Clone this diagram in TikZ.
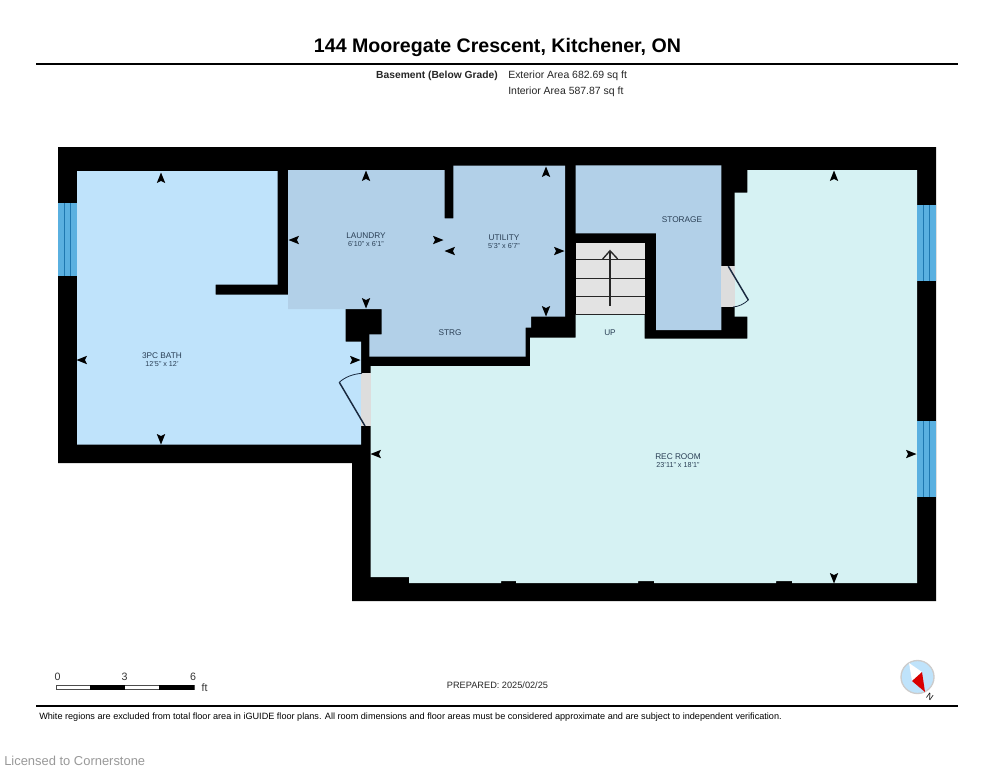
\documentclass[tikz,border=0pt]{standalone}
\usepackage{fontspec}
\setmainfont{Liberation Sans}
\definecolor{bathblue}{HTML}{BFE3FB}
\definecolor{laundryblue}{HTML}{B2D0E8}
\definecolor{recgreen}{HTML}{D6F2F3}
\definecolor{windowblue}{HTML}{5AB0E0}
\definecolor{windowline}{HTML}{1F78B0}
\definecolor{doorgrey}{HTML}{DDDDDD}
\definecolor{stairgrey}{HTML}{E3E3E3}
\definecolor{roomtext}{HTML}{2A3F55}
\definecolor{doorline}{HTML}{1A2A40}
\tikzset{
    roomname/.style={text=roomtext, inner sep=0pt, font=\fontsize{6.2}{7}\selectfont},
    roomsize/.style={text=roomtext, inner sep=0pt, font=\fontsize{5.4}{6}\selectfont},
    headtext/.style={inner sep=0pt, text=black!85, font=\fontsize{7.85}{9}\selectfont},
    scaletext/.style={inner sep=0pt, text=black!80, font=\fontsize{8}{9}\selectfont},
    stairline/.style={line width=1pt, draw=black!85},
    doorleaf/.style={line width=1.1pt, draw=doorline},
    doorarc/.style={line width=0.6pt, draw=doorline},
    rule/.style={line width=1.5pt}
}
\begin{document}
\begin{tikzpicture}[x=0.75pt,y=-0.75pt]
    \useasboundingbox (0,0) rectangle (994,768);
    \fill[white] (0,0) rectangle (994,768);
    \node[inner sep=0pt, font=\bfseries\fontsize{14.7}{18}\selectfont] (title) at (497.5,47.5) {144 Mooregate Crescent, Kitchener, ON};
    \draw[rule] (36,64) -- (958,64);
    \node[headtext, anchor=east, font=\bfseries\fontsize{7.7}{9}\selectfont] (level) at (498,76) {Basement (Below Grade)};
    \node[headtext, anchor=west] (extarea) at (508,76) {Exterior Area 682.69 sq ft};
    \node[headtext, anchor=west] (intarea) at (508,92) {Interior Area 587.87 sq ft};
    % walls
    \fill[black] (58,147) -- (936,147) -- (936,601) -- (352,601) -- (352,463) -- (58,463) -- cycle;
    % rooms
    \fill[bathblue] (77,171) -- (277.5,171) -- (277.5,284.5) -- (215.5,284.5) -- (215.5,294.5) -- (288,294.5)
        -- (288,309) -- (345.5,309) -- (345.5,341.5) -- (361,341.5) -- (361,444.5) -- (77,444.5) -- cycle;
    \fill[laundryblue] (288,170) -- (444.7,170) -- (444.7,218.3) -- (453.3,218.3) -- (453.3,165.7) -- (565,165.7)
        -- (565,316.7) -- (531,316.7) -- (531,327.7) -- (525.7,327.7) -- (525.7,356.7) -- (369.3,356.7)
        -- (369.3,334.3) -- (381.7,334.3) -- (381.7,309) -- (288,309) -- cycle;
    \fill[laundryblue] (575.7,165.3) -- (721.3,165.3) -- (721.3,330) -- (656,330) -- (656,233.3) -- (575.7,233.3) -- cycle;
    \fill[recgreen] (747.3,170) -- (917,170) -- (917,583) -- (792,583) -- (792,581) -- (776,581) -- (776,583)
        -- (654,583) -- (654,581) -- (638,581) -- (638,583) -- (516,583) -- (516,581) -- (501,581) -- (501,583)
        -- (409,583) -- (409,577) -- (370.7,577) -- (370.7,366) -- (530,366) -- (530,337.7) -- (575.7,337.7)
        -- (575.7,314.5) -- (644.7,314.5) -- (644.7,338.5) -- (747.3,338.5) -- (747.3,316.5) -- (734.7,316.5)
        -- (734.7,192.7) -- (747.3,192.7) -- cycle;
    % stairs
    \fill[stairgrey] (576,242.7) rectangle (644.5,314);
    \foreach \y in {259.7,278.3,296.3,314.5}
        \draw[stairline] (576,\y) -- (644.5,\y);
    \draw[stairline] (610,305.7) -- (610,250.7);
    \draw[stairline] (602.7,259) -- (610,250.7) -- (617.7,259);
    % doors
    \fill[doorgrey] (721.3,266) rectangle (734.7,307.3);
    \draw[doorleaf] (728.3,266.3) -- (748.3,300);
    \draw[doorarc] (748.3,300) .. controls (744,304) and (739,306.5) .. (733,307);
    \fill[doorgrey] (361,373.3) rectangle (370.7,426);
    \draw[doorleaf] (365,426) -- (339.3,382.3);
    \draw[doorarc] (339.3,382.3) .. controls (345,377) and (353,374) .. (362,373.3);
    % windows
    \foreach \xa/\ya/\yb in {58/203.3/275.7,917/205/281,917/421/497} {
        \fill[windowblue] (\xa,\ya) rectangle (\xa+19,\yb);
        \draw[windowline, line width=0.6pt] (\xa+6.3,\ya) -- (\xa+6.3,\yb);
        \draw[windowline, line width=0.6pt] (\xa+12.7,\ya) -- (\xa+12.7,\yb);
    }
    % dimension marks
    \foreach \x/\y/\a in {161/178/90,161/439/-90,82/360/180,355/360/0,
        366/176/90,366/303/-90,294/240/180,438/240/0,
        546/172/90,546/311/-90,450/251/180,559/251/0,
        834/176/90,834/578/-90,376/454/180,911/454/0}
        \fill[black,shift={(\x,\y)},rotate=\a] (5.5,0) -- (-5,-4.2) -- (-3,0) -- (-5,4.2) -- cycle;
    % labels
    \node[roomname] (laundry) at (366,236) {LAUNDRY};
    \node[roomsize] (laundrysize) at (366,244) {6'10" x 6'1"};
    \node[roomname] (utility) at (504,238) {UTILITY};
    \node[roomsize] (utilitysize) at (504,246) {5'3" x 6'7"};
    \node[roomname] (strg) at (450,333) {STRG};
    \node[roomname] (storage) at (682,219.5) {STORAGE};
    \node[roomname] (up) at (610,333) {UP};
    \node[roomname] (bath) at (162,356) {3PC BATH};
    \node[roomsize] (bathsize) at (162,364) {12'5" x 12'};
    \node[roomname] (rec) at (678,457) {REC ROOM};
    \node[roomsize] (recsize) at (678,465) {23'11" x 18'1"};
    % scale bar
    \node[scaletext] (scale0) at (57.5,677) {0};
    \node[scaletext] (scale3) at (124.5,677) {3};
    \node[scaletext] (scale6) at (193,677) {6};
    \node[scaletext] (scaleft) at (204.5,688) {ft};
    \draw[black!70, fill=white, line width=0.4pt] (56,685) rectangle (194,689.5);
    \fill[black] (90,684.5) rectangle (125,690);
    \fill[black] (159,684.5) rectangle (194,690);
    \node[headtext, font=\fontsize{6.9}{8}\selectfont] (prepared) at (497.5,685) {PREPARED: 2025/02/25};
    % compass
    \fill[bathblue, draw=black!20, line width=1pt] (917.5,677) circle (16.5);
    \fill[white] (909,663) -- (922,672) -- (912,681) -- cycle;
    \fill[red!85!black] (922,672) -- (912,681) -- (925,692) -- cycle;
    \node[inner sep=0pt, rotate=-35, font=\fontsize{6.5}{7}\selectfont] (north) at (930,696.5) {N};
    % footer
    \draw[rule] (36,705.5) -- (958,705.5);
    \node[inner sep=0pt, anchor=west, font=\fontsize{6.84}{8}\selectfont] (note) at (39,717.5) {White regions are excluded from total floor area in iGUIDE floor plans. All room dimensions and floor areas must be considered approximate and are subject to independent verification.};
    \node[inner sep=0pt, anchor=west, text=black!40, font=\fontsize{9.7}{11}\selectfont] (licence) at (4,760.5) {Licensed to Cornerstone};
\end{tikzpicture}
\end{document}
